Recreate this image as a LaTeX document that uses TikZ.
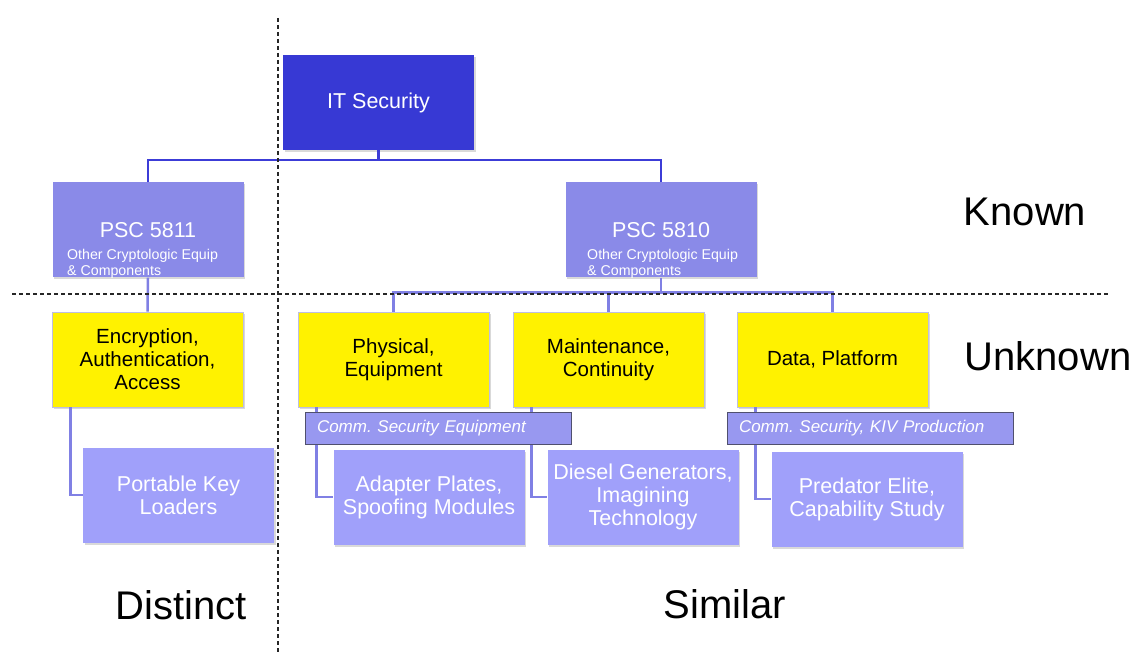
\documentclass[tikz,border=0pt]{standalone}
\usepackage{fontspec}
\setmainfont{Liberation Sans}
\usepackage{tikz}
\usetikzlibrary{positioning,calc,shadows}
\definecolor{itcolor}{RGB}{55,57,212}
\definecolor{psccolor}{RGB}{138,138,232}
\definecolor{leafcolor}{RGB}{160,160,250}
\definecolor{tagcolor}{RGB}{152,152,240}
\definecolor{tagedge}{RGB}{80,80,110}
\definecolor{catedge}{RGB}{190,190,225}
\definecolor{toplinkcolor}{RGB}{60,60,215}
\definecolor{sublinkcolor}{RGB}{128,128,228}

\begin{document}
\frenchspacing
\begin{tikzpicture}[
    x=1pt, y=-1pt,
    box/.style={rectangle, minimum width=191pt, minimum height=95pt, align=center, inner sep=2pt, drop shadow={shadow xshift=1.5pt, shadow yshift=-2pt, opacity=0.3}},
    itbox/.style={box, fill=itcolor, text=white, font=\fontsize{21.5}{24}\selectfont},
    pscbox/.style={box, fill=psccolor, text=white, font=\fontsize{21.5}{24}\selectfont},
    catbox/.style={box, fill=yellow, draw=catedge, line width=0.8pt, font=\fontsize{20.5}{23}\selectfont},
    leafbox/.style={box, fill=leafcolor, text=white, font=\fontsize{21.5}{23}\selectfont},
    tagbar/.style={rectangle, fill=tagcolor, draw=tagedge, line width=1pt, minimum height=32pt, inner xsep=12pt, inner ysep=0pt, align=left, text=white, font=\fontsize{17}{19}\selectfont\itshape},
    subtext/.style={anchor=north west, text=white, inner sep=0pt, align=left, font=\fontsize{14.2}{16.5}\selectfont},
    toplink/.style={draw=toplinkcolor, line width=2.5pt},
    sublink/.style={draw=sublinkcolor, line width=2.5pt},
    divider/.style={black!85, line width=1.1pt, dash pattern=on 4pt off 3pt},
    zonelabel/.style={font=\fontsize{40}{46}\selectfont}
]
\useasboundingbox (0,0) rectangle (1135,652);

% Top
\node[itbox] (it) at (378.5, 102.5) {IT Security};

% PSC level
\node[pscbox] (psc11) at (148, 230) {PSC 5811};
\node[pscbox] (psc10) at (661, 230) {PSC 5810};
\node[subtext] (psc11sub) at (67, 249) {Other Cryptologic Equip\\\& Components};
\node[subtext] (psc10sub) at (587, 249) {Other Cryptologic Equip\\\& Components};

% Categories
\node[catbox] (encr) at (147.5, 359.5) {Encryption,\\Authentication,\\Access};
\node[catbox] (phys) at (393.5, 359.5) {Physical,\\Equipment};
\node[catbox] (maint) at (608.5, 359.5) {Maintenance,\\Continuity};
\node[catbox] (data) at (832.5, 359.5) {Data, Platform};

% Leaves
\node[leafbox] (loaders) at (178.5, 495) {Portable Key\\Loaders};
\node[leafbox] (adapter) at (429, 497) {Adapter Plates,\\Spoofing Modules};
\node[leafbox] (diesel) at (643, 497) {Diesel Generators,\\Imagining\\Technology};
\node[leafbox] (predator) at (867, 499) {Predator Elite,\\Capability Study};

% Links
\draw[toplink] (it.south) -- ++(0,10) coordinate (itjoin);
\draw[toplink] (psc11.north) |- (itjoin) -| (psc10.north);
\draw[sublink] (psc11.south) -- (encr.north);
\draw[sublink] (psc10.south) -- ++(0,15) coordinate (pscjoin);
\draw[sublink] (phys.north) |- (pscjoin) -| (data.north);
\draw[sublink] (maint.north) -- (maint.north |- pscjoin);
\draw[sublink] ([xshift=19pt]encr.south west) |- (loaders.west);
\draw[sublink] ([xshift=19pt]phys.south west) |- (adapter.west);
\draw[sublink] ([xshift=19pt]maint.south west) |- (diesel.west);
\draw[sublink] ([xshift=19pt]data.south west) |- (predator.west);

% Tags
\node[tagbar, text width=242pt] (commtag) at (438, 428) {Comm. Security Equipment};
\node[tagbar, text width=262pt] (kivtag) at (870, 428) {Comm. Security, KIV Production};

% Dividers
\coordinate (vtop) at (278, 18);
\coordinate (vbot) at (278, 652);
\coordinate (hleft) at (12, 294);
\coordinate (hright) at (1110, 294);
\draw[divider] (vtop) -- (vbot);
\draw[divider] (hleft) -- (hright);

% Zone labels
\node[zonelabel] (known) at (1025, 212) {Known};
\node[zonelabel] (unknown) at (1048, 356) {Unknown};
\node[zonelabel] (distinct) at (181, 605) {Distinct};
\node[zonelabel] (similar) at (725, 604) {Similar};

\end{tikzpicture}
\end{document}
